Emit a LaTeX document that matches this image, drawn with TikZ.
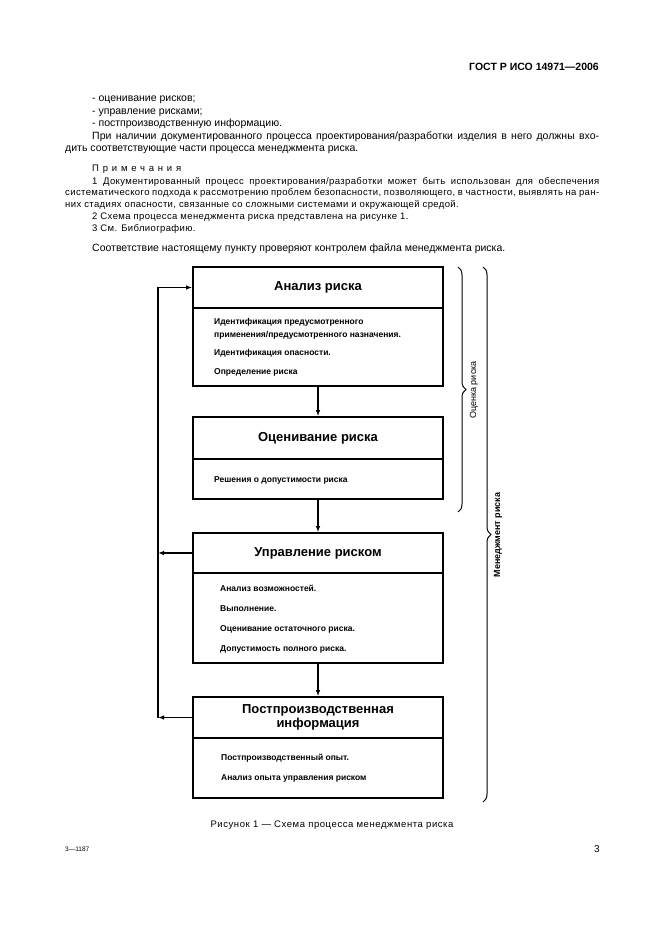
\documentclass[tikz,border=0pt]{standalone}
\usepackage{fontspec}
\setmainfont{Liberation Sans}
\usetikzlibrary{arrows.meta,decorations.pathreplacing}

\begin{document}
\begin{tikzpicture}[x=1pt,y=-1pt,
  blk/.style={draw,line width=1.6pt,minimum width=250pt,inner sep=0pt},
  ttl/.style={blk,font=\fontsize{13}{14}\selectfont\bfseries,align=center},
  itm/.style={anchor=west,inner sep=0pt,font=\fontsize{8.5}{9}\selectfont\bfseries},
  txt/.style={anchor=west,inner sep=0pt,text height=7.5pt,text depth=2pt,font=\fontsize{10.5}{12}\selectfont},
  nte/.style={txt,font=\fontsize{9.5}{11}\selectfont\addfontfeatures{LetterSpace=4}},
  arr/.style={line width=1.3pt,-{Latex[length=6pt,width=4.5pt]}},
  brc/.style={decorate,decoration={brace,amplitude=8pt},line width=1pt}]
\useasboundingbox (0,0) rectangle (661,936);

\node[anchor=east,inner sep=0pt,font=\fontsize{10.5}{13}\selectfont\bfseries] (gost) at (599,67) {ГОСТ Р ИСО 14971—2006};

\node[txt] (l1) at (92,99) {- оценивание рисков;};
\node[txt] (l2) at (92,112) {- управление рисками;};
\node[txt] (l3) at (92,124) {- постпроизводственную информацию.};
\node[txt] (l4) at (92,137) {\makebox[507pt][s]{При наличии документированного процесса проектирования/разработки изделия в него должны вхо-}};
\node[txt] (l5) at (65,149) {дить соответствующие части процесса менеджмента риска.};

\node[nte] (n0) at (92,169) {\addfontfeatures{LetterSpace=40}Примечания};
\node[nte] (n1) at (92,182) {\makebox[507pt][s]{1 Документированный процесс проектирования/разработки может быть использован для обеспечения}};
\node[nte] (n2) at (65,193) {\makebox[534pt][s]{систематического подхода к рассмотрению проблем безопасности, позволяющего, в частности, выявлять на ран-}};
\node[nte] (n3) at (65,205) {них стадиях опасности, связанные со сложными системами и окружающей средой.};
\node[nte] (n4) at (92,217) {2 Схема процесса менеджмента риска представлена на рисунке 1.};
\node[nte] (n5) at (92,229) {3 См. Библиографию.};
\node[txt] (l6) at (92,249) {Соответствие настоящему пункту проверяют контролем файла менеджмента риска.};

% blocks
\node[ttl,minimum height=41pt] (an) at (318,287.5) {Анализ риска};
\node[blk,minimum height=78pt] (anb) at (318,347) {};
\node[ttl,minimum height=42pt] (oc) at (318,438) {Оценивание риска};
\node[blk,minimum height=40pt] (ocb) at (318,479) {};
\node[ttl,minimum height=40pt] (up) at (318,553) {Управление риском};
\node[blk,minimum height=90pt] (upb) at (318,618) {};
\node[ttl,minimum height=41pt] (ps) at (318,717.5) {Постпроизводственная\\информация};
\node[blk,minimum height=60pt] (psb) at (318,768) {};

\foreach \txt/\yy [count=\i] in {Идентификация предусмотренного/322,{применения/предусмотренного назначения.}/335,Идентификация опасности./353,Определение риска/372}
  {\node[itm] (a\i) at (214,\yy) {\txt};}
\node[itm] (b1) at (214,480) {Решения о допустимости риска};
\foreach \txt/\yy [count=\i] in {Анализ возможностей./588,Выполнение./609,Оценивание остаточного риска./629,Допустимость полного риска./649}
  {\node[itm] (c\i) at (220,\yy) {\txt};}
\foreach \txt/\yy [count=\i] in {Постпроизводственный опыт./758,Анализ опыта управления риском/778}
  {\node[itm] (d\i) at (221,\yy) {\txt};}

\draw[arr] (anb.south) -- (oc.north);
\draw[arr] (ocb.south) -- (up.north);
\draw[arr] (upb.south) -- (ps.north);

\coordinate (lp) at (158,0);
\draw[arr] (up.west) -- (up.west -| lp);
\draw[arr] (ps.west) -- (ps.west -| lp);
\draw[arr] (ps.west -| lp) -- (an.west -| lp) -- (an.west);

% braces
\coordinate (o1) at (458,267);
\coordinate (o2) at (458,512);
\coordinate (m1) at (483,267);
\coordinate (m2) at (483,802);
\draw[brc] (o1) -- (o2);
\draw[brc] (m1) -- (m2);
\node[rotate=90,inner sep=0pt,font=\fontsize{9}{10}\selectfont] (ocl) at (474,390) {Оценка риска};
\node[rotate=90,inner sep=0pt,font=\fontsize{9}{10}\selectfont\bfseries] (mnl) at (498,535) {Менеджмент риска};

\node[inner sep=0pt,font=\fontsize{9.5}{11}\selectfont\addfontfeatures{LetterSpace=6}] (cap) at (332,825) {Рисунок 1 — Схема процесса менеджмента риска};
\node[anchor=west,inner sep=0pt,font=\fontsize{6.5}{8}\selectfont] (ft) at (65,849) {3—1187};
\node[inner sep=0pt,font=\fontsize{10}{12}\selectfont] (pg) at (597,849) {3};
\end{tikzpicture}
\end{document}
